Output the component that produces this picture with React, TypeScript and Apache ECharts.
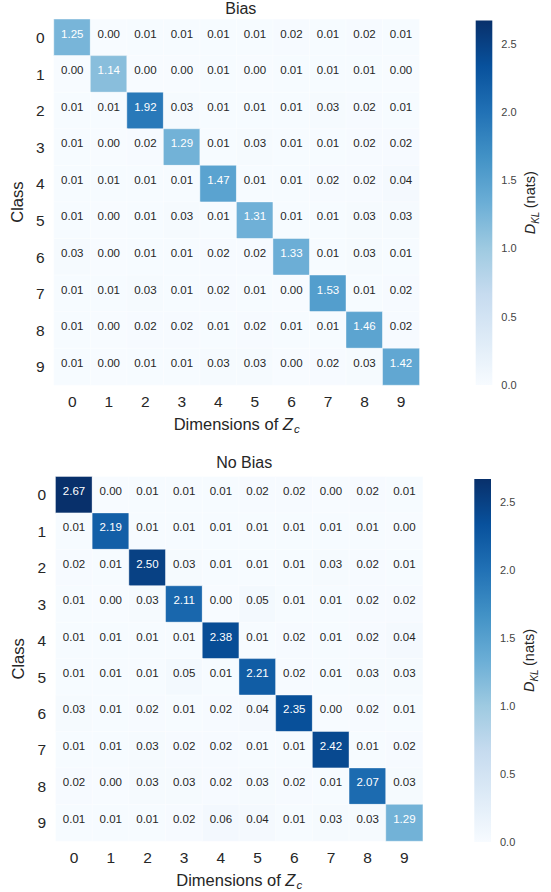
import React, { useEffect, useRef } from "react";
import * as echarts from "echarts";

const dims = ["0", "1", "2", "3", "4", "5", "6", "7", "8", "9"];
const classes = ["0", "1", "2", "3", "4", "5", "6", "7", "8", "9"];
const vmax = 2.67;

const biasValues: number[][] = [
  [1.25, 0.0, 0.01, 0.01, 0.01, 0.01, 0.02, 0.01, 0.02, 0.01],
  [0.0, 1.14, 0.0, 0.0, 0.01, 0.0, 0.01, 0.01, 0.01, 0.0],
  [0.01, 0.01, 1.92, 0.03, 0.01, 0.01, 0.01, 0.03, 0.02, 0.01],
  [0.01, 0.0, 0.02, 1.29, 0.01, 0.03, 0.01, 0.01, 0.02, 0.02],
  [0.01, 0.01, 0.01, 0.01, 1.47, 0.01, 0.01, 0.02, 0.02, 0.04],
  [0.01, 0.0, 0.01, 0.03, 0.01, 1.31, 0.01, 0.01, 0.03, 0.03],
  [0.03, 0.0, 0.01, 0.01, 0.02, 0.02, 1.33, 0.01, 0.03, 0.01],
  [0.01, 0.01, 0.03, 0.01, 0.02, 0.01, 0.0, 1.53, 0.01, 0.02],
  [0.01, 0.0, 0.02, 0.02, 0.01, 0.02, 0.01, 0.01, 1.46, 0.02],
  [0.01, 0.0, 0.01, 0.01, 0.03, 0.03, 0.0, 0.02, 0.03, 1.42],
];

const noBiasValues: number[][] = [
  [2.67, 0.0, 0.01, 0.01, 0.01, 0.02, 0.02, 0.0, 0.02, 0.01],
  [0.01, 2.19, 0.01, 0.01, 0.01, 0.01, 0.01, 0.01, 0.01, 0.0],
  [0.02, 0.01, 2.5, 0.03, 0.01, 0.01, 0.01, 0.03, 0.02, 0.01],
  [0.01, 0.0, 0.03, 2.11, 0.0, 0.05, 0.01, 0.01, 0.02, 0.02],
  [0.01, 0.01, 0.01, 0.01, 2.38, 0.01, 0.02, 0.01, 0.02, 0.04],
  [0.01, 0.01, 0.01, 0.05, 0.01, 2.21, 0.02, 0.01, 0.03, 0.03],
  [0.03, 0.01, 0.02, 0.01, 0.02, 0.04, 2.35, 0.0, 0.02, 0.01],
  [0.01, 0.01, 0.03, 0.02, 0.02, 0.01, 0.01, 2.42, 0.01, 0.02],
  [0.02, 0.0, 0.03, 0.03, 0.02, 0.03, 0.02, 0.01, 2.07, 0.03],
  [0.01, 0.01, 0.01, 0.02, 0.06, 0.04, 0.01, 0.03, 0.03, 1.29],
];

const blues = [
  "#f7fbff",
  "#deebf7",
  "#c6dbef",
  "#9ecae1",
  "#6baed6",
  "#4292c6",
  "#2171b5",
  "#08519c",
  "#08306b",
];

const FONT = "Liberation Sans, Arial, sans-serif";
const TXT = "#262626";

function toData(m: number[][]) {
  const out: any[] = [];
  m.forEach((row, r) =>
    row.forEach((v, c) => {
      out.push({
        value: [c, r, v],
        label: { color: v > 0.8 ? "#ffffff" : TXT },
      });
    })
  );
  return out;
}

export default function App() {
  const ref = useRef<HTMLDivElement>(null);
  useEffect(() => {
    if (!ref.current) return;
    const chart = echarts.init(ref.current, undefined, { renderer: "svg" });

    const grids = [
      { left: 52.3, top: 19.3, width: 367, height: 365.7 },
      { left: 55.7, top: 476.7, width: 367, height: 365.3 },
    ];
    const cbars = [
      { left: 475.7, top: 20.5, width: 16.6, height: 364.5 },
      { left: 474.3, top: 479, width: 16.7, height: 363 },
    ];
    const titles = ["Bias", "No Bias"];
    const titleTops = [-5, 449];
    const yNameGaps = [23, 22.5];
    const mats = [biasValues, noBiasValues];

    const xName = {
      name: "{n|Dimensions of }{z|Z}{s|c}",
      nameLocation: "middle",
      nameGap: 28,
      nameTextStyle: {
        rich: {
          n: { fontSize: 16.5, color: TXT, fontFamily: FONT, lineHeight: 22 },
          z: { fontSize: 16.5, color: TXT, fontFamily: FONT, fontStyle: "italic", lineHeight: 22 },
          s: { fontSize: 11.5, color: TXT, fontFamily: FONT, fontStyle: "italic", lineHeight: 22, verticalAlign: "bottom", padding: [7, 0, 0, 1] },
        },
      },
    };

    const gradient = new echarts.graphic.LinearGradient(
      0,
      1,
      0,
      0,
      blues.map((c, k) => ({ offset: k / (blues.length - 1), color: c }))
    );

    const option: any = {
      animation: false,
      backgroundColor: "#ffffff",
      title: titles.map((t, i) => ({
        text: t,
        left: grids[i].left + grids[i].width / 2,
        top: titleTops[i],
        textAlign: "center",
        textStyle: { fontSize: 16, fontWeight: "normal", color: TXT, fontFamily: FONT },
      })),
      graphic: cbars.map((b) => ({
        type: "rect",
        shape: { x: b.left, y: b.top, width: b.width, height: b.height },
        style: { fill: gradient },
        silent: true,
        z: 1,
      })),
      grid: [
        ...grids.map((g) => ({ ...g, containLabel: false })),
        ...cbars.map((g) => ({ ...g, containLabel: false })),
      ],
      xAxis: [
        ...grids.map((_, i) => ({
          type: "category",
          gridIndex: i,
          data: dims,
          ...xName,
          axisLine: { show: false },
          axisTick: { show: false },
          splitLine: { show: false },
          axisLabel: { fontSize: 15.5, color: TXT, fontFamily: FONT, margin: 8 },
        })),
        ...cbars.map((_, i) => ({
          type: "value",
          gridIndex: 2 + i,
          show: false,
        })),
      ],
      yAxis: [
        ...grids.map((_, i) => ({
          type: "category",
          gridIndex: i,
          data: classes,
          inverse: true,
          name: "Class",
          nameLocation: "middle",
          nameGap: yNameGaps[i],
          nameRotate: 90,
          nameTextStyle: { fontSize: 16.5, color: TXT, fontFamily: FONT },
          axisLine: { show: false },
          axisTick: { show: false },
          splitLine: { show: false },
          axisLabel: { fontSize: 15.5, color: TXT, fontFamily: FONT, margin: 9.5 },
        })),
        ...cbars.map((_, i) => ({
          type: "value",
          gridIndex: 2 + i,
          position: "right",
          min: 0,
          max: vmax,
          interval: 0.5,
          name: "{d|D}{s|KL} {n|(nats)}",
          nameLocation: "middle",
          nameRotate: 90,
          nameGap: 28,
          nameTextStyle: {
            rich: {
              d: { fontSize: 14.5, color: TXT, fontFamily: FONT, fontStyle: "italic", lineHeight: 20 },
              s: { fontSize: 10, color: TXT, fontFamily: FONT, fontStyle: "italic", lineHeight: 20, verticalAlign: "bottom", padding: [6, 0, 0, 0] },
              n: { fontSize: 14.5, color: TXT, fontFamily: FONT, lineHeight: 20 },
            },
          },
          axisLine: { show: false },
          axisTick: { show: false },
          splitLine: { show: false },
          axisLabel: {
            fontSize: 11,
            color: "#444444",
            fontFamily: FONT,
            margin: 9,
            formatter: (v: number) => v.toFixed(1),
            showMaxLabel: false,
          },
        })),
      ],
      visualMap: mats.map((_, i) => ({
        type: "continuous",
        seriesIndex: i,
        min: 0,
        max: vmax,
        show: false,
        inRange: { color: blues },
      })),
      series: mats.map((m, i) => ({
        type: "heatmap",
        xAxisIndex: i,
        yAxisIndex: i,
        data: toData(m),
        itemStyle: { borderColor: "rgba(255,255,255,0.7)", borderWidth: 0.6 },
        label: {
          show: true,
          fontSize: 11.5,
          fontFamily: FONT,
          formatter: (p: any) => p.value[2].toFixed(2),
          offset: [0, -4],
        },
        emphasis: { disabled: true },
      })),
    };
    chart.setOption(option);
    return () => chart.dispose();
  }, []);
  return (
    <div
      ref={ref}
      style={{ position: "absolute", left: 0, top: 0, width: 551, height: 892 }}
    />
  );
}
